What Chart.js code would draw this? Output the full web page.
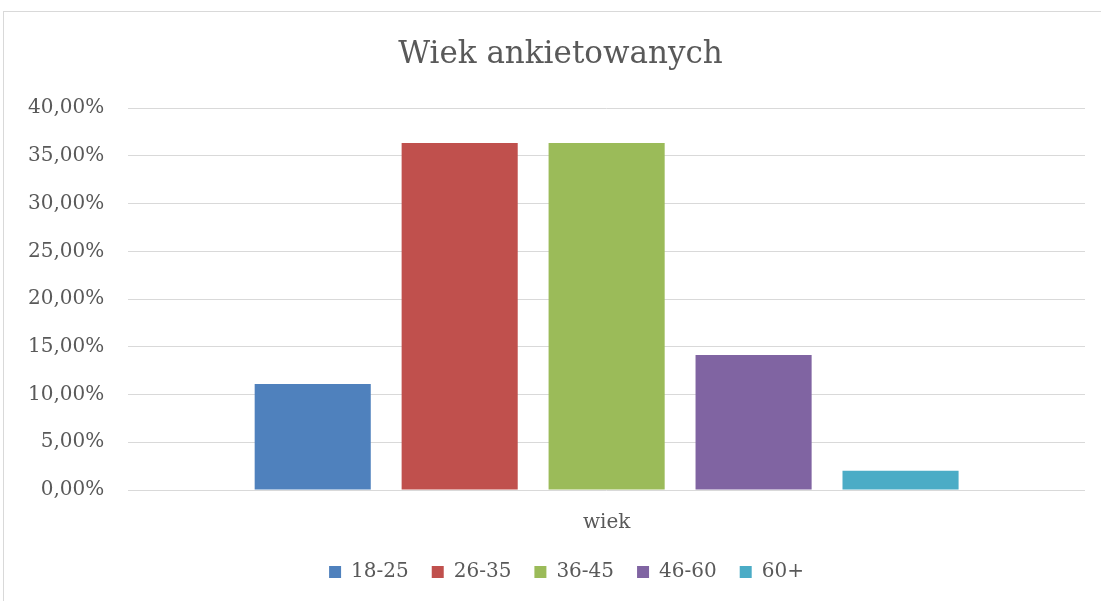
<!DOCTYPE html>
<html>
<head>
<meta charset="utf-8">
<script src="https://cdn.jsdelivr.net/npm/chart.js@4"></script>
<style>
  body { margin: 0; background: #fff; }
  #wrap { position: relative; width: 1101px; height: 601px; }
  #frame { position: absolute; left: 3px; top: 11px; width: 1200px; height: 700px; border: 1px solid #d9d9d9; pointer-events: none; }
</style>
</head>
<body>
<div id="wrap">
  <canvas id="ageChart" width="1101" height="601"></canvas>
  <div id="frame"></div>
</div>
<script>
const categories = ['wiek'];
const groups = ['18-25', '26-35', '36-45', '46-60', '60+'];
const shares = [11.11, 36.36, 36.36, 14.14, 2.02];
const colors = ['#4f81bd', '#c0504d', '#9bbb59', '#8064a2', '#4bacc6'];
const yTicks = [0, 5, 10, 15, 20, 25, 30, 35, 40];

const textColor = '#595959';
const fontFamily = '"DejaVu Serif", serif';

// Excel centres title and legend on the whole chart frame, not on the canvas minus padding
const nudgeBoxes = {
    id: 'nudgeBoxes',
    afterLayout: function (chart) {
        const t = chart.titleBlock, l = chart.legend;
        if (t) { t.left += 16; t.right += 16; }
        if (l) { l.left += 22; l.right += 22; }
    }
};

new Chart(document.getElementById('ageChart'), {
    type: 'bar',
    data: {
        labels: categories,
        datasets: groups.map(function (g, i) {
            return {
                label: g,
                data: [shares[i]],
                backgroundColor: colors[i],
                categoryPercentage: 0.768,
                barPercentage: 0.79
            };
        })
    },
    options: {
        responsive: false,
        animation: false,
        layout: { padding: { left: 4, right: 16, top: 36, bottom: 9 } },
        scales: {
            x: {
                grid: { display: false },
                border: { display: false },
                ticks: { color: textColor, font: { family: fontFamily, size: 20 }, padding: 13 },
                afterFit: function (axis) { axis.height -= 9; }
            },
            y: {
                min: 0,
                max: 40,
                afterBuildTicks: function (axis) {
                    axis.ticks = yTicks.map(function (v) { return { value: v }; });
                },
                grid: { color: '#d9d9d9', lineWidth: 1, drawTicks: false },
                border: { display: false },
                ticks: {
                    color: textColor,
                    font: { family: fontFamily, size: 20 },
                    padding: 24,
                    callback: function (v) { return v.toFixed(2).replace('.', ',') + '%'; }
                }
            }
        },
        plugins: {
            title: {
                display: true,
                text: 'Wiek ankietowanych',
                color: textColor,
                font: { family: fontFamily, size: 31, weight: 'normal' },
                padding: { top: 0, bottom: 35 }
            },
            legend: {
                position: 'bottom',
                labels: {
                    color: textColor,
                    font: { family: fontFamily, size: 20 },
                    boxWidth: 12,
                    boxHeight: 12,
                    padding: 23
                }
            },
            tooltip: { enabled: false }
        }
    },
    plugins: [nudgeBoxes]
});
</script>
</body>
</html>
